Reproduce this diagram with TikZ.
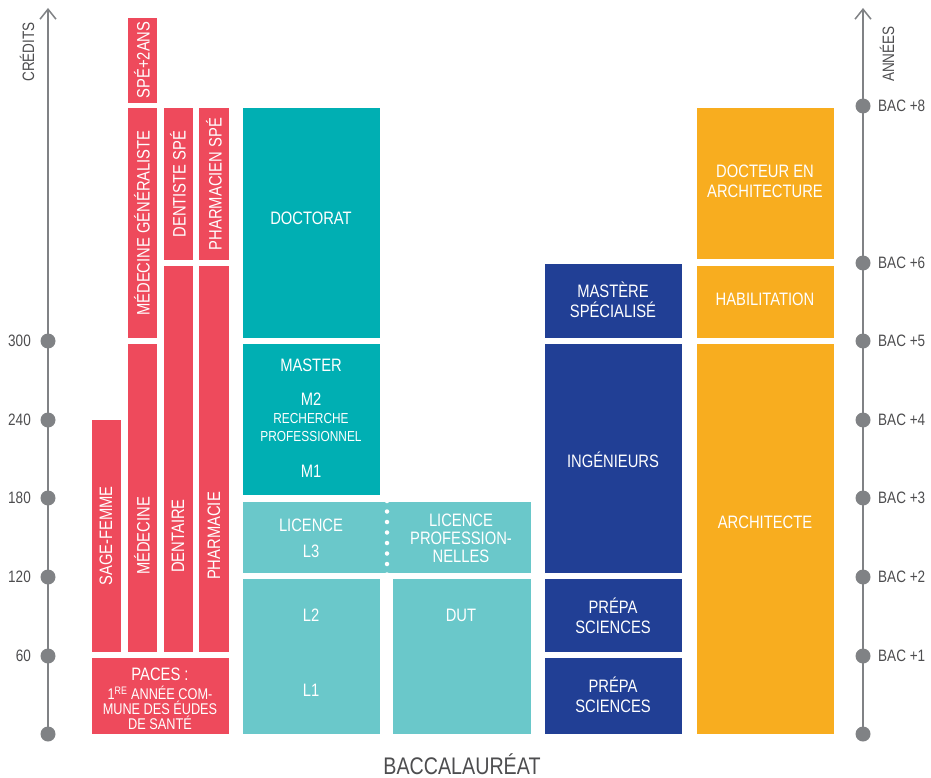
\documentclass[tikz,border=0pt]{standalone}
\usepackage{fontspec}
\setmainfont{Liberation Sans}[FakeStretch=0.82]
\usetikzlibrary{arrows.meta}
\definecolor{rouge}{HTML}{EE4A5C}
\definecolor{tealA}{HTML}{00AFB3}
\definecolor{tealB}{HTML}{6AC8CA}
\definecolor{bleu}{HTML}{213F95}
\definecolor{orangeA}{HTML}{F8AD1F}
\definecolor{axe}{HTML}{808285}
\definecolor{txt}{HTML}{4D4D4F}
\newcommand\bx[6]{\node[bx,fill=#2,minimum width={(#5-#3)*1pt},minimum height={(#6-#4)*1pt}] (#1) at (#3,#4) {};}
\begin{document}
\begin{tikzpicture}[x=1pt,y=-1pt,
  bx/.style={anchor=north west,inner sep=0,outer sep=0,draw=none},
  lbl/.style={text=white,align=center,inner sep=0,font=\fontsize{18}{20}\selectfont},
  lblsm/.style={lbl,font=\fontsize{14.5}{18}\selectfont},
  lblr/.style={lbl,rotate=90},
  dot/.style={circle,fill=axe,minimum size=15pt,inner sep=0},
  axis/.style={draw=axe,line width=2pt},
  axlbl/.style={text=txt,inner sep=0,font=\fontsize{16.5}{18}\selectfont},
  tip/.style={-{Straight Barb[length=10pt,width=16pt,line width=1.5pt]}}]
\useasboundingbox (0,0) rectangle (931,778);
% axes
\coordinate (lbot) at (48,734); \coordinate (ltop) at (48,8);
\coordinate (rbot) at (863,734); \coordinate (rtop) at (863,8);
\draw[axis,tip] (lbot) -- (ltop);
\draw[axis,tip] (rbot) -- (rtop);
\foreach \n/\y in {0/734,60/656,120/577,180/498,240/420,300/341}{
  \node[dot] (l\n) at (48,\y) {};}
\foreach \n/\y/\t in {300/341/300,240/420/240,180/498/180,120/577/120,60/656/60}{
  \node[axlbl,anchor=east] (lt\n) at (31,\y) {\t};}
\foreach \n/\y in {0/734,1/656,2/577,3/498,4/420,5/341,6/263,8/106}{
  \node[dot] (r\n) at (863,\y) {};}
\foreach \n/\y in {1/656,2/577,3/498,4/420,5/341,6/263,8/106}{
  \node[axlbl,anchor=west] (rt\n) at (878,\y) {BAC +\n};}
\node[axlbl,rotate=90] (credits) at (27,52) {CRÉDITS};
\node[axlbl,rotate=90] (annees) at (887,54) {ANNÉES};
\node[text=txt,inner sep=0,anchor=base,font=\fontsize{24}{26}\selectfont] (bac) at (462,774) {BACCALAURÉAT};
% red
\bx{spe2}{rouge}{128}{18}{157}{103}
\bx{medgen}{rouge}{128}{108}{157}{338}
\bx{dentspe}{rouge}{164}{108}{193}{260}
\bx{pharmspe}{rouge}{199}{108}{229}{260}
\bx{sage}{rouge}{92}{420}{121}{652}
\bx{med}{rouge}{128}{344}{157}{652}
\bx{dent}{rouge}{164}{266}{193}{652}
\bx{pharm}{rouge}{199}{266}{229}{652}
\bx{paces}{rouge}{92}{658}{229}{734}
\node[lblr] (tspe2) at (142,60) {SPÉ+2ANS};
\node[lblr] (tmedgen) at (142,223) {MÉDECINE GÉNÉRALISTE};
\node[lblr] (tdentspe) at (178,184) {DENTISTE SPÉ};
\node[lblr] (tpharmspe) at (214,184) {PHARMACIEN SPÉ};
\node[lblr] (tsage) at (106,536) {SAGE-FEMME};
\node[lblr] (tmed) at (142,536) {MÉDECINE};
\node[lblr] (tdent) at (178,536) {DENTAIRE};
\node[lblr] (tpharm) at (214,536) {PHARMACIE};
\node[lbl] (tpaces) at (160,674) {PACES :};
\node[lbl,font=\fontsize{15.5}{15}\selectfont,anchor=north] (tpaces2) at (160,686) {1\textsuperscript{RE} ANNÉE COM-\\MUNE DES ÉUDES\\DE SANTÉ};
% teal
\bx{doct}{tealA}{243}{108}{380}{338}
\bx{master}{tealA}{243}{344}{380}{495}
\bx{lic}{tealB}{243}{502}{387}{573}
\bx{licpro}{tealB}{387}{502}{531}{573}
\bx{l12}{tealB}{243}{579}{380}{734}
\bx{dut}{tealB}{393}{579}{531}{734}
\coordinate (dtop) at (387,501); \coordinate (dbot) at (387,575);
\draw[white,line width=4.5pt,line cap=round,dash pattern=on 0pt off 10.5pt] (dtop) -- (dbot);
\node[lbl] (tdoct) at (311,218) {DOCTORAT};
\node[lbl] (tmaster) at (311,365) {MASTER};
\node[lbl] (tm2) at (311,399) {M2};
\node[lblsm] (trech) at (311,428) {RECHERCHE\\PROFESSIONNEL};
\node[lbl] (tm1) at (311,471) {M1};
\node[lbl] (tlic) at (311,525) {LICENCE};
\node[lbl] (tl3) at (311,551) {L3};
\node[lbl,font=\fontsize{18}{18}\selectfont] (tlicpro) at (461,538) {LICENCE\\PROFESSION-\\NELLES};
\node[lbl] (tl2) at (311,615) {L2};
\node[lbl] (tdut) at (461,615) {DUT};
\node[lbl] (tl1) at (311,690) {L1};
% blue
\bx{mspe}{bleu}{545}{264}{682}{338}
\bx{ing}{bleu}{545}{344}{682}{573}
\bx{prepa2}{bleu}{545}{579}{682}{652}
\bx{prepa1}{bleu}{545}{658}{682}{734}
\node[lbl] (tmspe) at (613,300) {MASTÈRE\\SPÉCIALISÉ};
\node[lbl] (ting) at (613,460) {INGÉNIEURS};
\node[lbl] (tprepa2) at (613,616) {PRÉPA\\SCIENCES};
\node[lbl] (tprepa1) at (613,695) {PRÉPA\\SCIENCES};
% orange
\bx{darch}{orangeA}{697}{108}{834}{259}
\bx{habil}{orangeA}{697}{266}{834}{338}
\bx{arch}{orangeA}{697}{344}{834}{734}
\node[lbl] (tdarch) at (765,181) {DOCTEUR EN\\ARCHITECTURE};
\node[lbl] (thabil) at (765,299) {HABILITATION};
\node[lbl] (tarch) at (765,522) {ARCHITECTE};
\end{tikzpicture}
\end{document}
